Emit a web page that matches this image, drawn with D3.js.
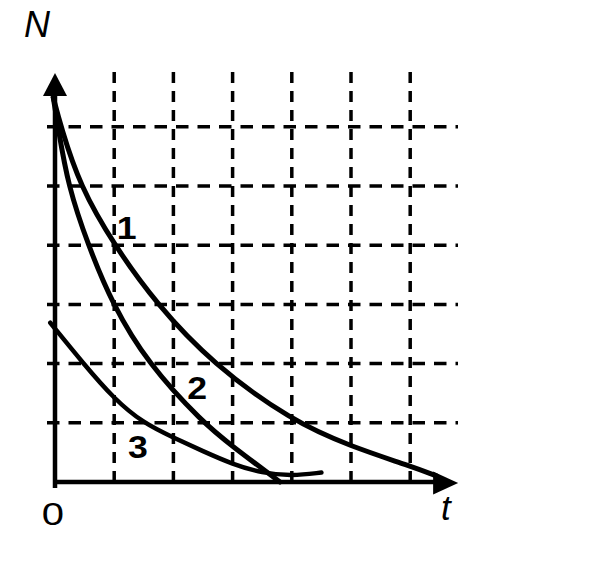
<!DOCTYPE html>
<html>
<head>
<meta charset="utf-8">
<script src="https://cdn.jsdelivr.net/npm/d3@7"></script>
<style>
  html, body { margin: 0; padding: 0; background: #fff; }
  svg { display: block; }
  text { font-family: "Liberation Sans", Arial, sans-serif; fill: #000; }
</style>
</head>
<body>
<script>
// ---- data ----
const gridT = [1, 2, 3, 4, 5, 6];          // vertical grid lines (t units)
const gridN = [1, 2, 3, 4, 5, 6];          // horizontal grid lines (N units)
const tickLabels = ["0"];
const axisTitles = ["N", "t"];
const curveNames = ["1", "2", "3"];

const curve1T = [-0.03, 0.1, 0.42, 1.0, 1.72, 2.66, 4.0, 5.0, 6.0, 6.45];
const curve1N = [6.5, 6.0, 5.0, 4.0, 3.0, 2.0, 1.03, 0.6, 0.27, 0.1];

const curve2T = [-0.03, 0.05, 0.22, 0.56, 0.97, 1.57, 2.5, 3.0, 3.8];
const curve2N = [6.5, 6.0, 5.0, 4.0, 3.0, 2.0, 1.0, 0.6, 0.0];

const curve3T = [-0.08, 0.48, 1.0, 1.5, 2.0, 2.5, 3.0, 3.5, 4.0, 4.5];
const curve3N = [2.69, 2.0, 1.4, 0.99, 0.75, 0.52, 0.3, 0.15, 0.1, 0.16];

// ---- layout ----
const W = 616, H = 566;
const unit = 59.2;
const x0 = 55, y0 = 482;
const tMax = 6.81, nMax = 6.91;

const x = d3.scaleLinear().domain([0, 7]).range([x0, x0 + 7 * unit]);
const y = d3.scaleLinear().domain([0, 7]).range([y0, y0 - 7 * unit]);

const svg = d3.select("body").append("svg").attr("width", W).attr("height", H);

// grid
const g = svg.append("g").attr("stroke", "#000").attr("fill", "none");
g.selectAll("line.v").data(gridT).join("line")
  .attr("class", "v")
  .attr("x1", d => x(d)).attr("x2", d => x(d))
  .attr("y1", 72).attr("y2", 488)
  .attr("stroke-width", 3.5)
  .attr("stroke-dasharray", "11,8");
g.selectAll("line.h").data(gridN).join("line")
  .attr("class", "h")
  .attr("x1", 47).attr("x2", 458)
  .attr("y1", d => y(d)).attr("y2", d => y(d))
  .attr("stroke-width", 3.5)
  .attr("stroke-dasharray", "12.5,9");

// axes
const ax = svg.append("g").attr("stroke", "#000").attr("fill", "#000");
ax.append("line")
  .attr("x1", x(0)).attr("x2", x(0))
  .attr("y1", y0 + 6).attr("y2", y(nMax) + 20)
  .attr("stroke-width", 4.5);
ax.append("line")
  .attr("x1", x(0) - 2).attr("x2", x(tMax) - 20)
  .attr("y1", y(0)).attr("y2", y(0))
  .attr("stroke-width", 4.5);
// arrow heads
ax.append("path")
  .attr("stroke", "none")
  .attr("d", `M${x(0)},${y(nMax)} L${x(0) - 12},${y(nMax) + 23} L${x(0) + 12},${y(nMax) + 23} Z`);
ax.append("path")
  .attr("stroke", "none")
  .attr("d", `M${x(tMax)},${y(0) + 1} L${x(tMax) - 25},${y(0) - 10.5} L${x(tMax) - 25},${y(0) + 12.5} Z`);

// curves
const line = d3.line().x(d => x(d[0])).y(d => y(d[1])).curve(d3.curveBasis);
const series = [
  { t: curve1T, n: curve1N, w: 5 },
  { t: curve2T, n: curve2N, w: 5 },
  { t: curve3T, n: curve3N, w: 4.5 }
];
svg.append("g").selectAll("path").data(series).join("path")
  .attr("d", s => line(s.t.map((t, i) => [t, s.n[i]])))
  .attr("fill", "none").attr("stroke", "#000")
  .attr("stroke-width", s => s.w)
  .attr("stroke-linecap", "round").attr("stroke-linejoin", "round");

// curve labels
const labelPos = [[1.21, 4.1], [2.4, 1.4], [1.4, 0.41]];
svg.append("g").selectAll("text").data(curveNames).join("text")
  .attr("transform", (d, i) => `translate(${x(labelPos[i][0])},${y(labelPos[i][1])}) scale(1.15,1)`)
  .attr("text-anchor", "middle")
  .attr("font-weight", "bold")
  .attr("font-size", 31)
  .text(d => d);

// tick label
svg.append("text")
  .attr("transform", `translate(${x(0) - 2},${y0 + 43}) scale(1.25,1)`)
  .attr("text-anchor", "middle")
  .attr("font-size", 32)
  .text(tickLabels[0]);

// axis titles
svg.append("text")
  .attr("x", 24).attr("y", 37)
  .attr("font-style", "italic").attr("font-size", 36)
  .text(axisTitles[0]);
svg.append("text")
  .attr("x", 441).attr("y", 520)
  .attr("font-style", "italic").attr("font-size", 35)
  .text(axisTitles[1]);
</script>
</body>
</html>
